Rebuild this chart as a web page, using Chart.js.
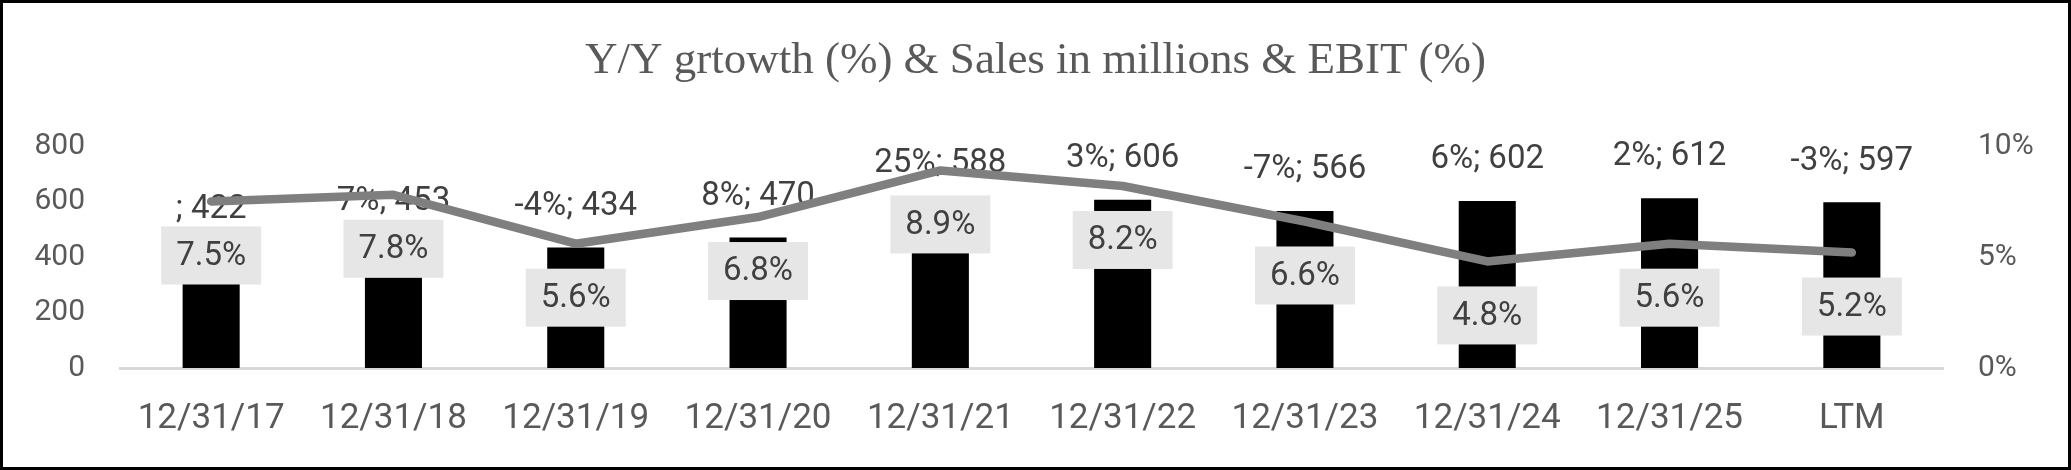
<!DOCTYPE html>
<html>
<head>
<meta charset="utf-8">
<title>Y/Y growth & Sales & EBIT</title>
<script src="https://cdn.jsdelivr.net/npm/chart.js@4.4.1/dist/chart.umd.min.js"></script>
<style>
  html, body { margin: 0; padding: 0; background: #fff; }
  #wrap {
    width: 2071px;
    height: 470px;
    border: 3px solid #000;
    box-sizing: border-box;
    position: relative;
  }
</style>
</head>
<body>
<div id="wrap"><canvas id="chart"></canvas></div>
<script>
// Chart data
const categories = ["12/31/17", "12/31/18", "12/31/19", "12/31/20", "12/31/21", "12/31/22", "12/31/23", "12/31/24", "12/31/25", "LTM"];
const sales = [422, 453, 434, 470, 588, 606, 566, 602, 612, 597];
const growth = [null, 7, -4, 8, 25, 3, -7, 6, 2, -3];
const ebit = [7.5, 7.8, 5.6, 6.8, 8.9, 8.2, 6.6, 4.8, 5.6, 5.2];
const salesTicks = [0, 200, 400, 600, 800];
const ebitTicks = [0, 5, 10];

const labelFont = "33px Roboto";
const textColor = "#404040";
const axisColor = "#595959";

// growth; sales labels above bars, EBIT boxes under the line points
const valueLabels = {
  id: "valueLabels",
  afterDatasetDraw(chart, args) {
    if (args.index !== 0) return;
    const ctx = chart.ctx;
    ctx.save();
    ctx.font = labelFont;
    ctx.fillStyle = textColor;
    ctx.textAlign = "center";
    ctx.textBaseline = "middle";
    args.meta.data.forEach((bar, i) => {
      const g = growth[i] === null ? "" : growth[i] + "%";
      ctx.fillText(g + "; " + sales[i], bar.x, bar.y - 41);
    });
    ctx.restore();
  },
  afterDatasetsDraw(chart) {
    const meta = chart.getDatasetMeta(1);
    const ctx = chart.ctx;
    ctx.save();
    ctx.font = labelFont;
    ctx.textAlign = "center";
    ctx.textBaseline = "middle";
    meta.data.forEach((pt, i) => {
      const txt = ebit[i].toFixed(1) + "%";
      const w = ctx.measureText(txt).width + 30;
      const h = 58;
      const cy = pt.y + 54;
      ctx.fillStyle = "#e7e6e6";
      ctx.fillRect(pt.x - w / 2, cy - h / 2, w, h);
      ctx.fillStyle = textColor;
      ctx.fillText(txt, pt.x, cy + 1);
    });
    ctx.restore();
  }
};

const ctx = document.getElementById("chart").getContext("2d");
const chart = new Chart(ctx, {
  type: "bar",
  data: {
    labels: categories,
    datasets: [
      {
        label: "Sales",
        data: sales,
        backgroundColor: "#000000",
        barPercentage: 0.313,
        categoryPercentage: 1,
        yAxisID: "y",
        order: 2
      },
      {
        type: "line",
        label: "EBIT (%)",
        data: ebit,
        borderColor: "#7f7f7f",
        borderWidth: 8.5,
        borderCapStyle: "round",
        borderJoinStyle: "round",
        pointRadius: 0,
        tension: 0,
        fill: false,
        yAxisID: "y1",
        order: 1
      }
    ]
  },
  options: {
    responsive: true,
    maintainAspectRatio: false,
    animation: false,
    layout: { padding: 0 },
    plugins: {
      legend: { display: false },
      tooltip: { enabled: false },
      title: {
        display: true,
        text: "Y/Y grtowth (%) & Sales in millions & EBIT (%)",
        color: axisColor,
        font: { family: "'Liberation Serif', serif", size: 45, weight: "normal" },
        padding: { top: 31, bottom: 58 }
      }
    },
    scales: {
      x: {
        offset: true,
        grid: { display: false, drawTicks: false },
        border: { display: true, color: "#d9d9d9", width: 3 },
        ticks: {
          color: axisColor,
          font: { family: "Roboto", size: 35 },
          padding: 30,
          maxRotation: 0,
          autoSkip: false
        },
        afterFit(scale) { scale.height = 99; }
      },
      y: {
        position: "left",
        min: salesTicks[0],
        max: salesTicks[salesTicks.length - 1],
        grid: { display: false, drawTicks: false },
        border: { display: false },
        afterBuildTicks(scale) { scale.ticks = salesTicks.map(v => ({ value: v })); },
        ticks: {
          color: axisColor,
          font: { family: "Roboto", size: 30 },
          padding: 35
        },
        afterFit(scale) { scale.width = 117; }
      },
      y1: {
        position: "right",
        min: ebitTicks[0],
        max: ebitTicks[ebitTicks.length - 1],
        grid: { display: false, drawTicks: false },
        border: { display: false },
        afterBuildTicks(scale) { scale.ticks = ebitTicks.map(v => ({ value: v })); },
        ticks: {
          color: axisColor,
          font: { family: "Roboto", size: 30 },
          padding: 35,
          callback: (v) => v + "%"
        },
        afterFit(scale) { scale.width = 125; }
      }
    }
  },
  plugins: [valueLabels]
});
</script>
</body>
</html>
